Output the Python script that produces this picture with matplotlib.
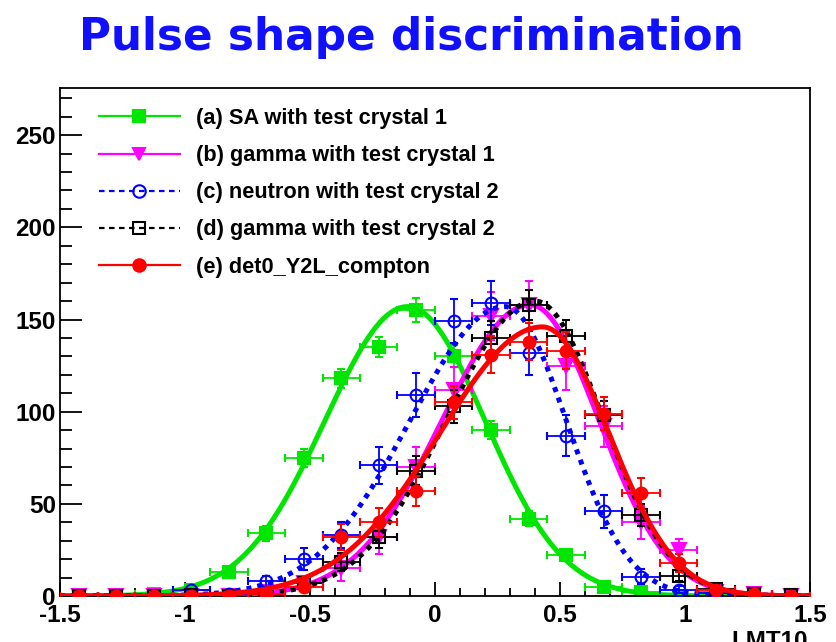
import numpy as np
import matplotlib
matplotlib.use('Agg')
import matplotlib.pyplot as plt
from matplotlib.lines import Line2D
from matplotlib.ticker import MultipleLocator

plt.rcParams['font.family'] = ['Liberation Sans', 'DejaVu Sans']
plt.rcParams['font.weight'] = 'bold'
plt.rcParams['axes.unicode_minus'] = False

# bin centres (LMT10), bin half width 0.075
bins = [-1.425, -1.275, -1.125, -0.975, -0.825, -0.675, -0.525, -0.375, -0.225, -0.075,
        0.075, 0.225, 0.375, 0.525, 0.675, 0.825, 0.975, 1.125, 1.275, 1.425]
half_width = 0.075

# (a) SA with test crystal 1
sa_y = [0, 0, 1, 3, 13, 34, 75, 118, 135, 155, 130, 90, 42, 22, 5, 2, 0, 0, 0, 0]
sa_err = [0, 0, 0.5, 1.5, 3, 4, 5, 5, 5.5, 6.5, 6, 5, 4, 3, 2, 1, 0, 0, 0, 0]
# (b) gamma with test crystal 1
g1_y = [0, 0, 0, 0, 0, 2, 7, 15, 32, 70, 112, 152, 158, 125, 92, 40, 25, 2, 1, 0]
g1_err = [0, 0, 0, 0, 0.5, 1, 4, 7, 9, 11, 12, 13, 13, 13, 11, 9, 6, 2, 1, 0]
# (c) neutron with test crystal 2
n2_y = [0, 0, 0, 3, 1, 8, 20, 33, 71, 109, 149, 159, 132, 87, 46, 10.5, 3.5, 1.5, 0.5, 0]
n2_err = [0, 0, 0, 1, 1, 3, 6, 7, 10, 12, 12, 12, 12, 11, 9, 4, 2, 1, 0.5, 0]
# (d) gamma with test crystal 2
g2_y = [0, 0, 0, 0.5, 0, 1, 7, 18.5, 32, 68, 103, 140, 158, 141, 98, 44, 11, 4, 1, 0.5]
g2_err = [0, 0, 0, 0.5, 0.5, 1, 3, 5, 6, 8, 9, 9, 8, 9, 8, 6, 3, 2, 1, 0.5]
# (e) det0_Y2L_compton
ce_y = [0, 0, 0, 0, 0, 1, 5, 32, 40, 57, 105, 131, 138, 133, 99, 56, 18, 3, 1, 0]
ce_err = [0, 0, 0, 0, 0, 1, 3, 7, 8, 8, 9, 10, 10, 10, 9, 8, 5, 2, 1, 0]

# fit curves: amplitude, mean, sigma left, sigma right
fit_amp = [157, 158, 157, 160, 146]
fit_mean = [-0.11, 0.38, 0.28, 0.40, 0.43]
fit_sig_left = [0.33, 0.35, 0.38, 0.35, 0.41]
fit_sig_right = [0.31, 0.275, 0.245, 0.27, 0.265]

labels = ['(a) SA with test crystal 1', '(b) gamma with test crystal 1',
          '(c) neutron with test crystal 2', '(d) gamma with test crystal 2',
          '(e) det0_Y2L_compton']
colors = ['#00e600', '#ff00ff', '#0000ff', '#000000', '#ff0000']
markers = ['s', 'v', 'o', 's', 'o']
filled = [True, True, False, False, True]
legend_ls = ['-', '-', '--', '--', '-']
fit_ls = ['-', '-', (0, (1, 1.2)), (0, (1, 1.2)), '-']

series_y = [sa_y, g1_y, n2_y, g2_y, ce_y]
series_err = [sa_err, g1_err, n2_err, g2_err, ce_err]

fig = plt.figure(figsize=(8.37, 6.42), dpi=100)
ax = fig.add_axes([60 / 837, 1 - 596 / 642, 750 / 837, 508 / 642])

xs = np.linspace(-1.5, 1.5, 601)


def bifur(x, a, m, sl, sr):
    s = np.where(x < m, sl, sr)
    return a * np.exp(-0.5 * ((x - m) / s) ** 2)


for i in range(5):
    c = colors[i]
    ax.errorbar(bins, series_y[i], xerr=half_width, yerr=series_err[i], fmt=markers[i],
                color=c, ecolor=c, elinewidth=1.3, capsize=3, capthick=1.3,
                markersize=8.5 if markers[i] != 'v' else 9.5,
                mfc=c if filled[i] else 'none', mec=c, mew=1.5, zorder=2 + i)
    ax.plot(xs, bifur(xs, fit_amp[i], fit_mean[i], fit_sig_left[i], fit_sig_right[i]),
            color=c, lw=3.6, ls=fit_ls[i], dash_capstyle='butt', zorder=2.5 + i)

ax.set_xlim(-1.5, 1.5)
ax.set_ylim(0, 275.6)
ax.set_xticks([-1.5, -1, -0.5, 0, 0.5, 1, 1.5])
ax.set_xticklabels(['-1.5', '-1', '-0.5', '0', '0.5', '1', '1.5'])
ax.set_yticks([0, 50, 100, 150, 200, 250])
ax.xaxis.set_minor_locator(MultipleLocator(0.1))
ax.yaxis.set_minor_locator(MultipleLocator(10))
ax.tick_params(axis='both', which='both', direction='in', top=False, right=False,
               labelsize=17.5, width=1.3)
ax.tick_params(axis='y', which='major', length=15.8, pad=3)
ax.tick_params(axis='y', which='minor', length=8.6)
ax.tick_params(axis='x', which='major', length=10, pad=6)
ax.tick_params(axis='x', which='minor', length=5.5)
for sp in ax.spines.values():
    sp.set_linewidth(1.3)

handles = []
for i in range(5):
    c = colors[i]
    h = Line2D([], [], color=c, lw=1.6, ls=legend_ls[i], marker=markers[i], markersize=9,
               mfc=c if filled[i] else 'none', mec=c, mew=1.5)
    if legend_ls[i] == '--':
        h.set_dashes((2.5, 2))
    handles.append(h)
ax.legend(handles, labels, loc='upper left', bbox_to_anchor=((99 - 60) / 750, (596 - 108) / 508),
          frameon=False, fontsize=15.7, handlelength=3.7, handletextpad=0.75,
          labelspacing=0.74, borderpad=0, borderaxespad=0)

fig.text(411 / 837, 1 - 50 / 642, 'Pulse shape discrimination', color='#1010ff',
         fontsize=31.5, fontweight='bold', ha='center', va='baseline',
         family=['DejaVu Sans'])
fig.text(808 / 837, 1 - 630 / 642, 'LMT10', fontsize=17.5, fontweight='bold',
         ha='right', va='top')

fig.savefig('out.png', dpi=100)
